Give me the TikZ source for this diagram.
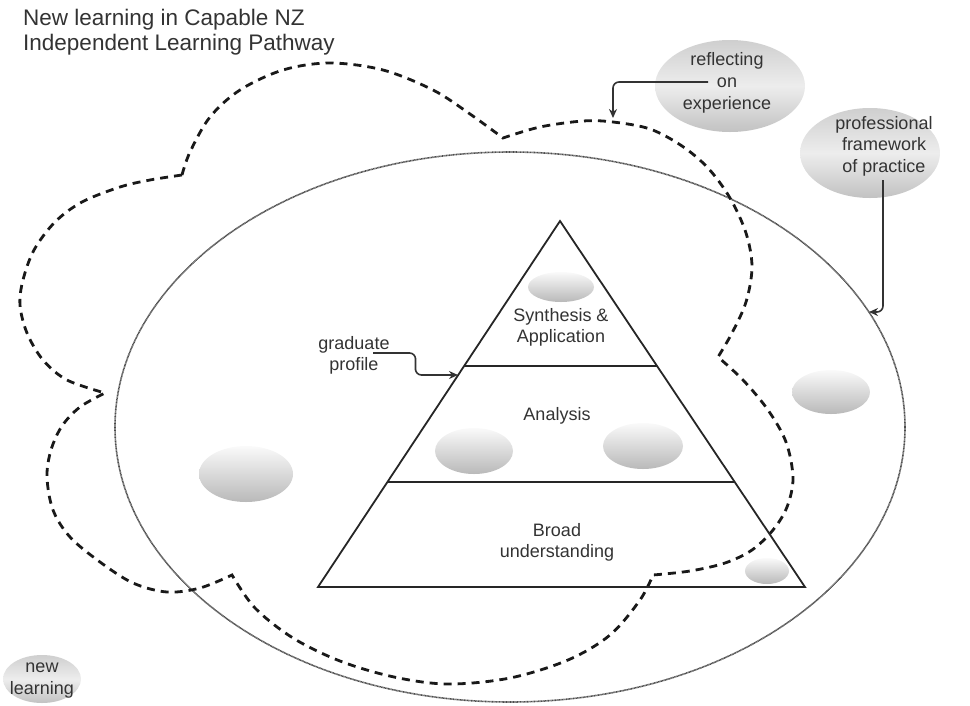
\documentclass[tikz,border=0pt]{standalone}
\usepackage{fontspec}
\setmainfont{Liberation Sans}
\usetikzlibrary{shapes.geometric, arrows.meta, calc}
\tikzset{
  blob/.style={ellipse, inner sep=0pt, draw=none, top color=gray!4, bottom color=gray!55},
  lblob/.style={ellipse, inner sep=0pt, draw=none, top color=gray!38, bottom color=gray!48, middle color=gray!14},
  lbl/.style={font=\fontsize{18}{21}\selectfont, text=black!80, align=center, inner sep=0pt},
  cloudline/.style={line width=2.8pt, dash pattern=on 8pt off 6pt, black!90},
  pyr/.style={line width=1.8pt, black!85},
  conn/.style={line width=1.6pt, black!80, rounded corners=6pt, -{Stealth[length=9pt,width=8pt]}},
  ring/.style={draw=gray!60!black, line width=1.6pt, dash pattern=on 0.9pt off 0.5pt}
}
\begin{document}
\begin{tikzpicture}[x=1pt, y=-1pt]
\useasboundingbox (0,0) rectangle (970,705);

% outer ellipse
\node[ring, ellipse, inner sep=0pt, minimum width=790pt, minimum height=550pt] (ring) at (510,427) {};

% cloud
\draw[cloudline]
  plot[smooth, tension=0.55] coordinates {(182,175) (190,152) (210,117) (240,90) (283,70) (330,63) (383,70) (433,90) (470,114) (503,138)}
  -- plot[smooth, tension=0.55] coordinates {(503,138) (540,127) (583,121) (613,122) (650,129) (682,146) (708,168) (730,198) (746,233) (752,267) (746,302) (732,333) (718,357)}
  -- plot[smooth, tension=0.55] coordinates {(718,357) (743,380) (768,410) (786,442) (793,478) (787,507) (773,530) (752,550) (725,563) (690,571) (653,575)}
  -- plot[smooth, tension=0.55] coordinates {(653,575) (640,600) (610,635) (568,660) (510,678) (448,684) (394,677) (340,661) (293,638) (255,608) (232,575)}
  -- plot[smooth, tension=0.55] coordinates {(232,575) (200,588) (167,592) (133,583) (100,562) (70,537) (53,510) (47,477) (51,450) (62,426) (80,407) (105,393)}
  -- plot[smooth, tension=0.55] coordinates {(105,393) (67,380) (43,360) (27,333) (20,305) (23,280) (34,250) (55,222) (82,202) (120,187) (150,180) (182,175)};

% pyramid
\coordinate (apex) at (560,221);
\coordinate (bl) at (318,587);
\coordinate (br) at (805,587);
\draw[pyr] (apex) -- (bl) -- (br) -- cycle;
\draw[pyr] ($(apex)!0.396!(bl)$) -- ($(apex)!0.396!(br)$);
\draw[pyr] ($(apex)!0.713!(bl)$) -- ($(apex)!0.713!(br)$);

% grey blobs
\node[blob, minimum width=66pt, minimum height=30pt] (b1) at (561,287) {};
\node[blob, minimum width=78pt, minimum height=46pt] (b2) at (474,451) {};
\node[blob, minimum width=80pt, minimum height=46pt] (b3) at (643,446) {};
\node[blob, minimum width=78pt, minimum height=44pt] (b4) at (831,392) {};
\node[blob, minimum width=44pt, minimum height=26pt] (b5) at (767,571) {};
\node[blob, minimum width=94pt, minimum height=56pt] (b6) at (246,474) {};

\node[lblob, minimum width=150pt, minimum height=92pt] (refl) at (730,86) {};
\node[lblob, minimum width=140pt, minimum height=90pt] (prof) at (870,153) {};
\node[lblob, minimum width=78pt, minimum height=48pt] (newl) at (42,679) {};

% texts
\node[anchor=base west, align=left, inner sep=0pt, text=black!80, font=\fontsize{22.5}{25}\selectfont] (title) at (23,50) {New learning in Capable NZ\\Independent Learning Pathway};
\node[lbl] (syn) at (561,327) {Synthesis \&\\Application};
\node[lbl] (ana) at (557,416) {Analysis};
\node[lbl] (broad) at (557,542) {Broad\\understanding};
\node[lbl] (grad) at (354,355) {graduate\\profile};
\node[lbl, font=\fontsize{18}{22}\selectfont] (reflT) at (727,83) {reflecting\\on\\experience};
\node[lbl, font=\fontsize{18}{21.5}\selectfont] (profT) at (884,146) {professional\\framework\\of practice};
\node[lbl, font=\fontsize{18}{22}\selectfont] (newT) at (42,681) {new\\learning};

% connectors
\coordinate (rS) at (708,82);
\coordinate (rT) at (613,118);
\draw[conn] (rS) -| (rT);
\coordinate (pS) at (883,180);
\coordinate (pT) at (869,312);
\draw[conn] (pS) |- (pT);
\coordinate (gS) at (373,353);
\coordinate (gT) at (458,375);
\draw[conn] (gS) -| ($(gS)!0.5!(gT)$) |- (gT);
\end{tikzpicture}
\end{document}
